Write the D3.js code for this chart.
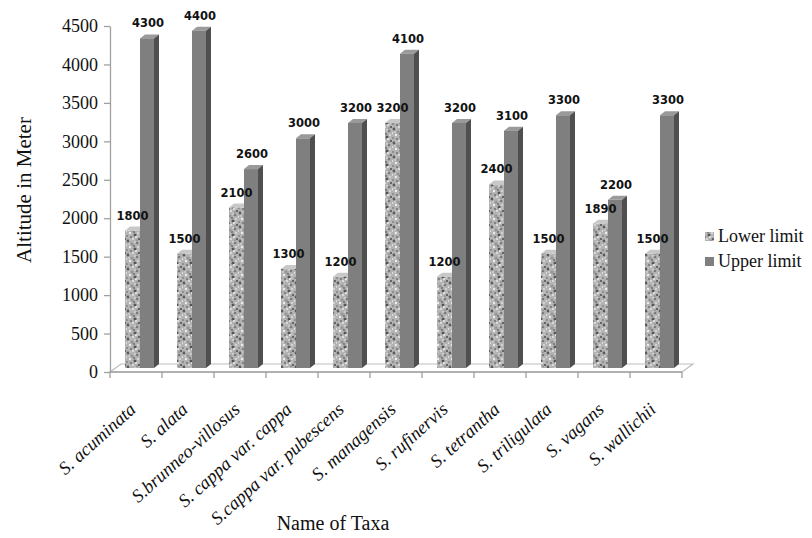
<!DOCTYPE html>
<html><head><meta charset="utf-8">
<script src="https://cdn.jsdelivr.net/npm/d3@7"></script>
<style>body{margin:0;background:#fff}svg{display:block}.serif{font-family:'Liberation Serif','Times New Roman',serif}</style>
</head><body>
<script>
const categories = ["S. acuminata","S. alata","S.brunneo-villosus","S. cappa var. cappa","S.cappa var. pubescens","S. managensis","S. rufinervis","S. tetrantha","S. triligulata","S. vagans","S. wallichii"];
const lowerLimit = [1800,1500,2100,1300,1200,3200,1200,2400,1500,1890,1500];
const upperLimit = [4300,4400,2600,3000,3200,4100,3200,3100,3300,2200,3300];
const yTicks = [0,500,1000,1500,2000,2500,3000,3500,4000,4500];
const seriesNames = ["Lower limit","Upper limit"];

const W=812,H=538;
const svg=d3.select("body").append("svg").attr("width",W).attr("height",H);
const defs=svg.append("defs");
// speckled texture (deterministic)
const dots=[[2,3,1.4,"#5a5a5a"],[7,1,1,"#e6e6e6"],[11,5,1.3,"#7a7a7a"],[4,9,1.2,"#ececec"],[9,11,1.5,"#555555"],[1,12,1,"#858585"],[12,9,1,"#e0e0e0"],[6,6,1.6,"#959595"],[13,1,0.9,"#3f3f3f"],[3,6,0.8,"#dedede"],[8,8,0.8,"#3a3a3a"],[10,13,1,"#eeeeee"],[5,13,0.9,"#6a6a6a"],[12,12,0.7,"#d4d4d4"],[0,7,0.9,"#f4f4f4"],[9,4,0.8,"#e8e8e8"],[4,2,0.7,"#d8d8d8"],[11,2,0.6,"#555"]];
function mkPat(id,base,k){
  const p=defs.append("pattern").attr("id",id).attr("patternUnits","userSpaceOnUse").attr("width",14).attr("height",14);
  p.append("rect").attr("width",14).attr("height",14).attr("fill",base);
  dots.forEach(d=>p.append("circle").attr("cx",d[0]).attr("cy",d[1]).attr("r",d[2]).attr("fill",k?d3.color(d[3]).darker(k):d[3]));
}
mkPat("speck","#b3b3b3",0);
mkPat("speck2","#999999",0.6);

const x0=110,x1=682;
const x=d3.scaleBand().domain(categories).range([x0,x1]);
const y=d3.scaleLinear().domain([0,4500]).range([372,26]);

// floor
const dx=11,dy=-8;
svg.append("path").attr("d",`M${x0},${y(0)}L${x1},${y(0)}L${x1+dx},${y(0)+dy}L${x0+dx},${y(0)+dy}Z`)
  .attr("fill","none").attr("stroke","#bdbdbd").attr("stroke-width",1.2);

// y axis
const ya=svg.append("g").attr("transform",`translate(${x0},0)`).call(d3.axisLeft(y).tickValues(yTicks).tickFormat(d3.format("d")).tickSize(6).tickPadding(6).tickSizeOuter(0));
ya.attr("font-family",null).attr("font-size",null);
ya.select(".domain").attr("stroke","#a0a0a0").attr("stroke-width",1.3);
ya.selectAll(".tick line").attr("stroke","#a0a0a0").attr("stroke-width",1.3);
ya.selectAll(".tick text").attr("class","serif").style("font-size","18px").attr("fill","#111");

// x axis line with ticks at boundaries
const xa=svg.append("g");
xa.append("line").attr("x1",x0).attr("x2",x1).attr("y1",y(0)).attr("y2",y(0)).attr("stroke","#a0a0a0").attr("stroke-width",1.3);
const bounds=categories.map(c=>x(c)).concat([x1]);
xa.selectAll(".bt").data(bounds).join("line").attr("x1",d=>d).attr("x2",d=>d).attr("y1",y(0)).attr("y2",y(0)+6).attr("stroke","#a0a0a0").attr("stroke-width",1.3);

const bw=x.bandwidth();
const bx=15, w1=15, w2=14, ddx=5, ddy=4, lift=3, baseY=y(0)-4;

function bar3d(g,left,wid,val,front,side,top){
  const t=y(val)-lift;
  g.append("path").attr("d",`M${left},${t}L${left+ddx},${t-ddy}L${left+wid+ddx},${t-ddy}L${left+wid},${t}Z`).attr("fill",top);
  g.append("path").attr("d",`M${left+wid},${t}L${left+wid+ddx},${t-ddy}L${left+wid+ddx},${baseY-ddy}L${left+wid},${baseY}Z`).attr("fill",side);
  g.append("rect").attr("x",left).attr("y",t).attr("width",wid).attr("height",baseY-t).attr("fill",front);
}
const bars=svg.append("g");
categories.forEach((c,i)=>{
  const g=bars.append("g");
  const lx=x(c)+bx;
  bar3d(g,lx,w1,lowerLimit[i],"url(#speck)","url(#speck2)","#c8c8c8");
  bar3d(g,lx+w1,w2,upperLimit[i],"#7f7f7f","#4f4f4f","#9a9a9a");
});
// labels
const lab=svg.append("g").style("font-family","'DejaVu Sans',sans-serif").style("font-size","11.5px").style("font-weight","bold").attr("fill","#111").attr("text-anchor","middle");
categories.forEach((c,i)=>{
  const lx=x(c)+bx;
  lab.append("text").attr("x",lx+w1/2).attr("y",y(lowerLimit[i])-14).text(lowerLimit[i]);
  lab.append("text").attr("x",lx+w1+w2/2+1).attr("y",y(upperLimit[i])-14).text(upperLimit[i]);
});

// x tick labels
svg.append("g").selectAll("text").data(categories).join("text")
  .attr("transform",d=>`translate(${x(d)+bw/2+1},${y(0)+39}) rotate(-42)`)
  .attr("text-anchor","end").attr("class","serif").style("font-style","italic").style("font-size","18.5px").attr("fill","#111").text(d=>d);

// axis titles
svg.append("text").attr("transform",`translate(31,190) rotate(-90)`).attr("text-anchor","middle")
  .attr("class","serif").style("font-size","21px").attr("fill","#111").text("Altitude in Meter");
svg.append("text").attr("x",333).attr("y",530).attr("text-anchor","middle")
  .attr("class","serif").style("font-size","20px").attr("fill","#111").text("Name of Taxa");

// legend
const leg=svg.append("g");
const legFill=["url(#speck)","#7f7f7f"];
seriesNames.forEach((s,i)=>{
  const yy=236+i*25;
  leg.append("rect").attr("x",705).attr("y",yy-4).attr("width",9).attr("height",9).attr("fill",legFill[i]);
  leg.append("text").attr("x",718).attr("y",yy+6).attr("class","serif").style("font-size","18px").attr("fill","#111").text(s);
});
</script>
</body></html>
